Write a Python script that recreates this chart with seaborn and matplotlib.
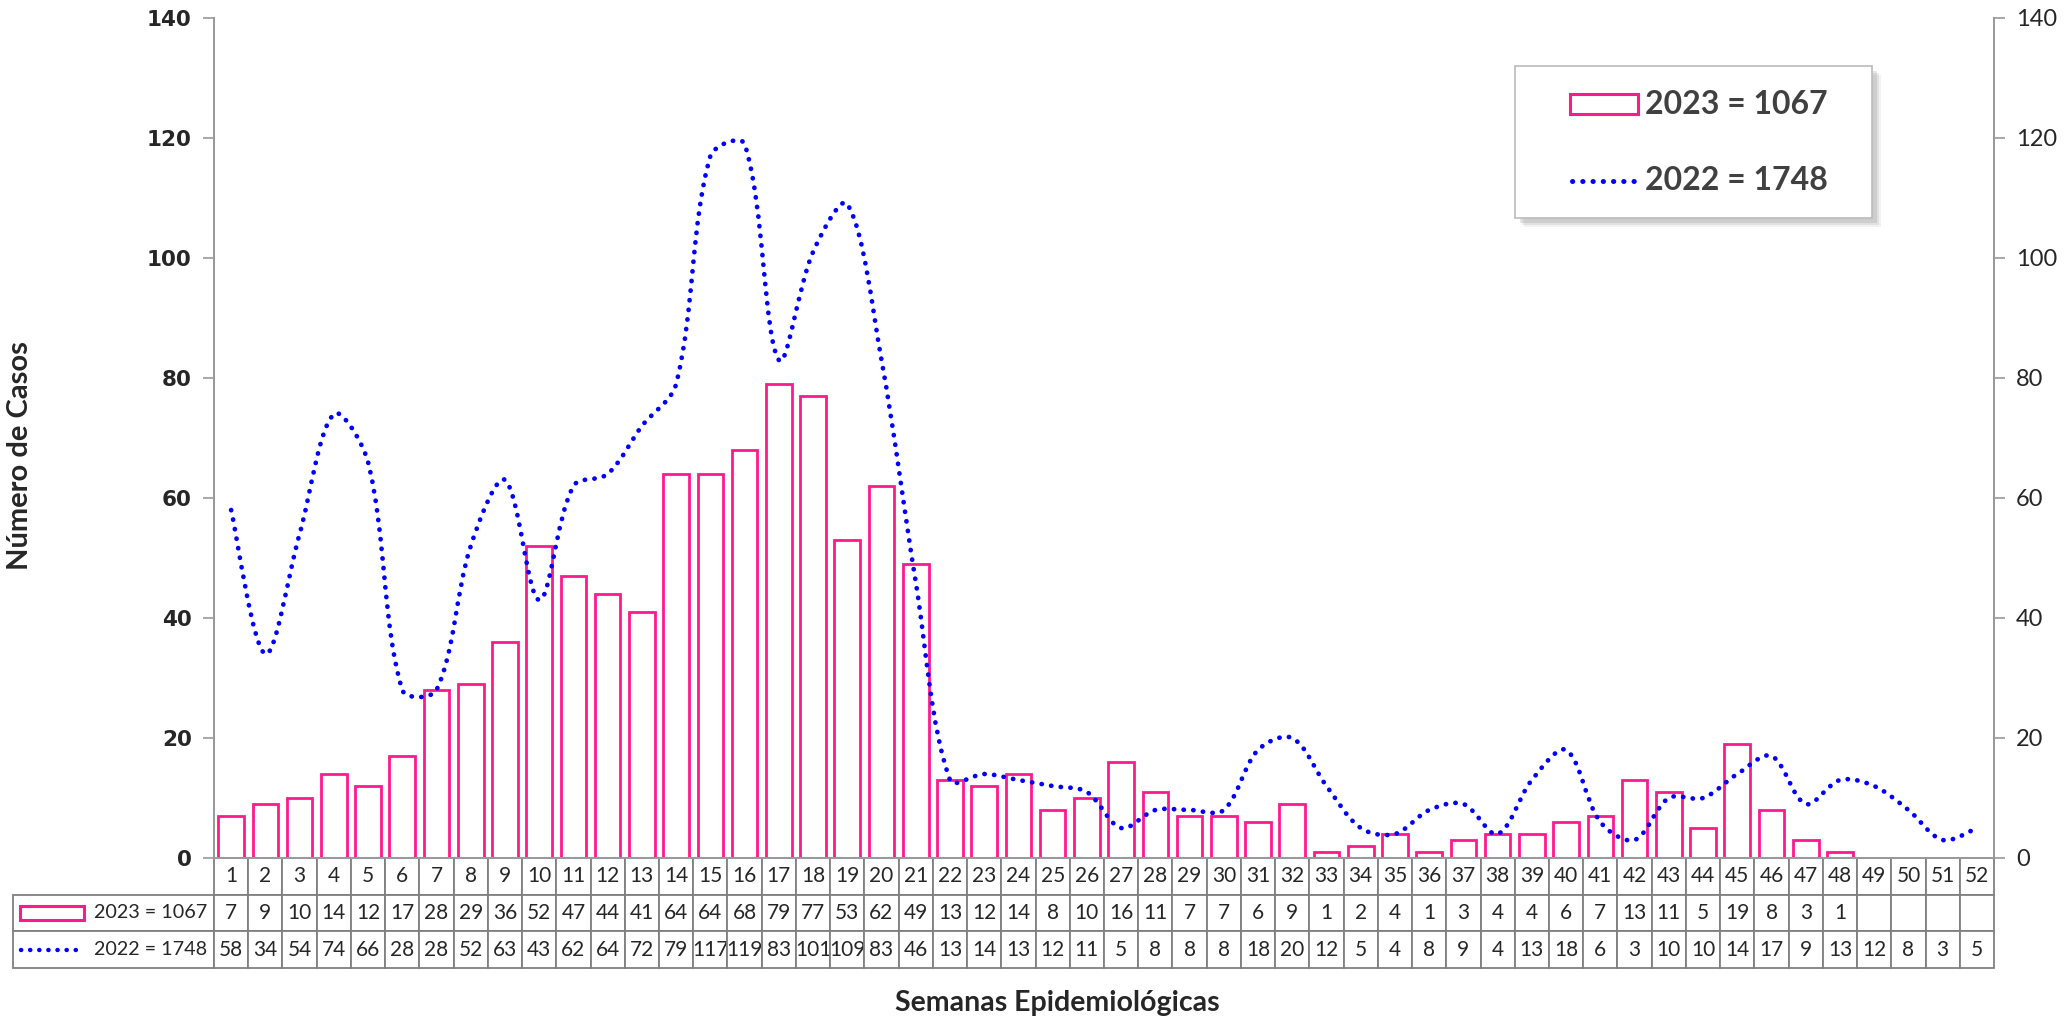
import numpy as np
import pandas as pd
import matplotlib
matplotlib.use("Agg")
import matplotlib.pyplot as plt
from matplotlib import font_manager
from matplotlib.path import Path
from matplotlib.patches import PathPatch, Rectangle
from matplotlib.lines import Line2D
import seaborn as sns

weeks = [str(i) for i in range(1, 53)]
cases_2023 = [7, 9, 10, 14, 12, 17, 28, 29, 36, 52, 47, 44, 41, 64, 64, 68, 79, 77, 53, 62,
              49, 13, 12, 14, 8, 10, 16, 11, 7, 7, 6, 9, 1, 2, 4, 1, 3, 4, 4, 6,
              7, 13, 11, 5, 19, 8, 3, 1, None, None, None, None]
cases_2022 = [58, 34, 54, 74, 66, 28, 28, 52, 63, 43, 62, 64, 72, 79, 117, 119, 83, 101, 109, 83,
              46, 13, 14, 13, 12, 11, 5, 8, 8, 8, 18, 20, 12, 5, 4, 8, 9, 4, 13, 18,
              6, 3, 10, 10, 14, 17, 9, 13, 12, 8, 3, 5]
label_2023 = "2023 = 1067"
label_2022 = "2022 = 1748"

pink = "#FF1A8C"
blue = "#0000FF"
grey = "#9A9A9A"
dots = (0, (0.05, 2.0))

sns.set_style("white")
plt.rcParams["font.family"] = ["DejaVu Sans"]

# pick a narrow-ish font close to Calibri
installed = {f.name for f in font_manager.fontManager.ttflist}
narrow = "Lato"
for cand in ["Liberation Sans Narrow", "Lato"]:
    if cand in installed:
        narrow = cand
        break
nfam = [narrow, "DejaVu Sans"]

W, H = 2071, 1017
fig = plt.figure(figsize=(W / 100, H / 100), dpi=100)
left, right, top, bottom = 214, 1994, 18, 858
ax = fig.add_axes([left / W, 1 - bottom / H, (right - left) / W, (bottom - top) / H])

df = pd.DataFrame({"week": weeks, "cases": cases_2023})
df = df.dropna()
sns.barplot(data=df, x="week", y="cases", order=weeks, ax=ax, color="white",
            saturation=1, edgecolor=pink, linewidth=2.0, width=0.75, zorder=2)

ax.set_xlim(-0.5, 51.5)
ax.set_ylim(0, 140)

# smoothed dotted line for 2022, bezier through points (Excel-like, scaled by segment length on screen)
x = np.arange(len(cases_2022), dtype=float)
y = np.array(cases_2022, dtype=float)
sx = (right - left) / 52.0
sy = (bottom - top) / 140.0
P = np.column_stack([x * sx, y * sy])
n = len(P)
verts = [(x[0], y[0])]
codes = [Path.MOVETO]
for i in range(n - 1):
    p0 = P[max(i - 1, 0)]
    p1 = P[i]
    p2 = P[i + 1]
    p3 = P[min(i + 2, n - 1)]
    d01 = np.linalg.norm(p1 - p0)
    d12 = np.linalg.norm(p2 - p1)
    d23 = np.linalg.norm(p3 - p2)
    f1 = d12 / (d01 + d12) if d01 > 0 else 0.5
    f2 = d12 / (d12 + d23) if d23 > 0 else 0.5
    c1 = p1 + (p2 - p0) * f1 / 3.0
    c2 = p2 - (p3 - p1) * f2 / 3.0
    for c in (c1, c2, p2):
        verts.append((c[0] / sx, c[1] / sy))
    codes += [Path.CURVE4] * 3
curve = PathPatch(Path(verts, codes), fill=False, edgecolor=blue, linewidth=3.4,
                  linestyle=dots, capstyle="round", zorder=3)
ax.add_patch(curve)

ax.set_yticks(range(0, 141, 20))
ax.set_xticks([])
ax.set_xlabel("")
ax.set_ylabel("")
ax.tick_params(axis="y", direction="out", length=8, width=1.2, color=grey, pad=8)
for t in ax.get_yticklabels():
    t.set_fontweight("bold")
    t.set_fontsize(15.5)
ax.spines["top"].set_visible(False)
for s in ["left", "right", "bottom"]:
    ax.spines[s].set_color(grey)
    ax.spines[s].set_linewidth(1.3)

ax2 = ax.twinx()
ax2.set_ylim(0, 140)
ax2.set_yticks(range(0, 141, 20))
ax2.tick_params(axis="y", direction="out", length=8, width=1.2, color=grey, labelsize=17, pad=8)
for t in ax2.get_yticklabels():
    t.set_family(nfam)
ax2.spines["top"].set_visible(False)
for s in ["left", "right", "bottom"]:
    ax2.spines[s].set_color(grey)
    ax2.spines[s].set_linewidth(1.3)

# data table under the chart
axw = right - left
lab_w = (left - 13) / axw
tab_h = (968 - bottom) / (bottom - top)
row1 = [""] + weeks
row2 = [label_2023] + ["" if v is None else str(v) for v in cases_2023]
row3 = [label_2022] + [str(v) for v in cases_2022]
tbl = ax.table(cellText=[row1, row2, row3], cellLoc="center",
               colWidths=[lab_w] + [1 / 52] * 52,
               bbox=[-lab_w, -tab_h, 1 + lab_w, tab_h])
tbl.auto_set_font_size(False)
tbl.set_fontsize(15)
for (r, c), cell in tbl.get_celld().items():
    cell.set_edgecolor("#808080")
    cell.set_linewidth(1.3)
    cell.get_text().set_family(nfam)
    if c == 0:
        cell.get_text().set_ha("right")
        cell.get_text().set_fontsize(14.2)
        cell._loc = "right"
        cell.PAD = 0.035
tbl[0, 0].visible_edges = ""

# legend symbols inside the table label cells
row_h = tab_h / 3
ax.add_patch(Rectangle(((20 - left) / axw, -row_h * 1.5 - 0.0083), 64 / axw, 0.0166,
                       transform=ax.transAxes, clip_on=False, facecolor="white",
                       edgecolor=pink, linewidth=2.2))
ax.add_line(Line2D([(21 - left) / axw, (81 - left) / axw], [-row_h * 2.5] * 2,
                   transform=ax.transAxes, clip_on=False, color=blue, linewidth=3.2,
                   linestyle=dots, dash_capstyle="round"))

# legend box drawn by hand (pixel positions -> figure fraction)
def fx(px):
    return px / W

def fy(py):
    return 1 - py / H

bx0, bx1, by0, by1 = 1515, 1872, 66, 218
for k, a in [(9, 0.10), (7, 0.15), (5, 0.2)]:
    fig.patches.append(Rectangle((fx(bx0 + k), fy(by1 + k)), fx(bx1 - bx0), (by1 - by0) / H,
                                 transform=fig.transFigure, facecolor="#808080", alpha=a,
                                 edgecolor="none", zorder=5))
fig.patches.append(Rectangle((fx(bx0), fy(by1)), fx(bx1 - bx0), (by1 - by0) / H,
                             transform=fig.transFigure, facecolor="white",
                             edgecolor="#BBBBBB", linewidth=1.2, zorder=6))
r1, r2 = 104, 181
fig.patches.append(Rectangle((fx(1570), fy(r1 + 10)), fx(68), 20 / H,
                             transform=fig.transFigure, facecolor="white",
                             edgecolor=pink, linewidth=2.2, zorder=7))
fig.lines.append(Line2D([fx(1572), fx(1636)], [fy(r2), fy(r2)], transform=fig.transFigure,
                        color=blue, linewidth=3.6, linestyle=dots, dash_capstyle="round",
                        zorder=7))
for ry, txt in [(r1, label_2023), (r2, label_2022)]:
    fig.text(fx(1645), fy(ry), txt, ha="left", va="center", fontsize=23, fontweight="bold",
             color="#404040", family=nfam, zorder=8)

fig.text(20 / W, 1 - 456 / H, "Número de Casos", rotation=90, ha="center", va="center",
         fontsize=21, fontweight="bold", family=nfam)
fig.text(1057 / W, 1 - 1003 / H, "Semanas Epidemiológicas", ha="center", va="center",
         fontsize=20.5, fontweight="bold", family=nfam)

fig.savefig("out.png", dpi=100, facecolor="white")
